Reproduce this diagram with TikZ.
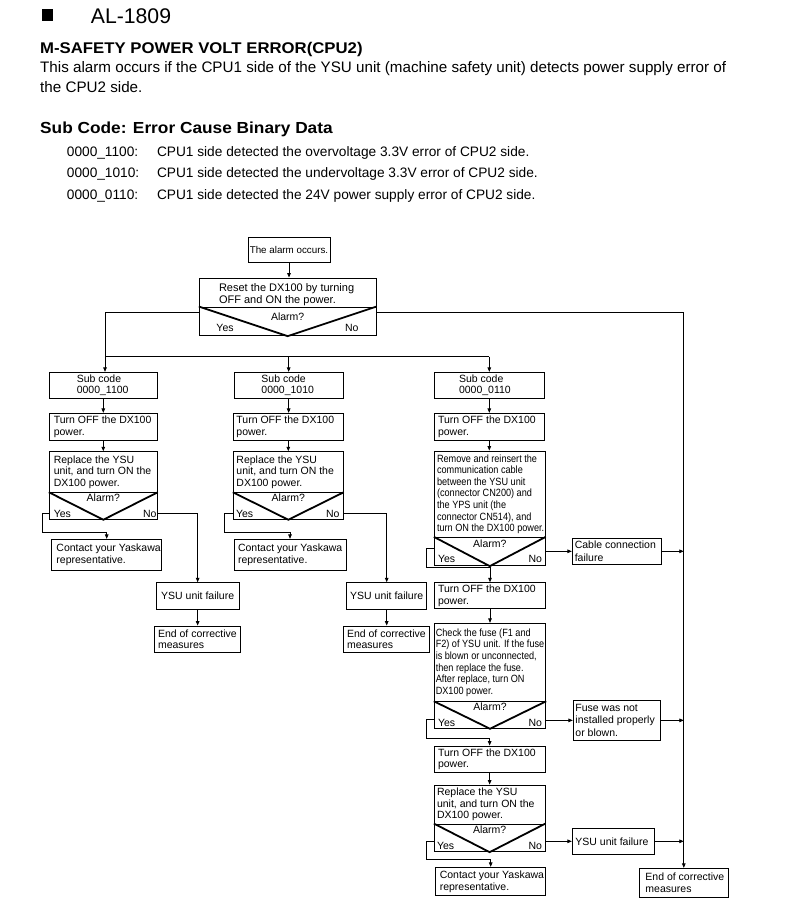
\documentclass[tikz,border=0pt]{standalone}
\usepackage{fontspec}
\setmainfont{Liberation Sans}
\newfontfamily\nfont[FakeStretch=0.87]{Liberation Sans}
\newfontfamily\wbfont[FakeStretch=1.08]{Liberation Sans}
\usetikzlibrary{arrows.meta,calc}
\newcommand\mkbox[5]{\node[bx, minimum width={(#4)-(#2)}, minimum height={(#5)-(#3)}] (#1) at ({((#2)+(#4))/2},{((#3)+(#5))/2}) {};}
\begin{document}
\begin{tikzpicture}[x=1pt,y=-1pt,
  bx/.style={draw, line width=0.9pt, inner sep=0pt, fill=white},
  tx/.style={inner sep=0pt, align=left, font=\fontsize{10.5}{11.6}\selectfont},
  ntx/.style={inner sep=0pt, align=left, font=\nfont\fontsize{10.5}{11.6}\selectfont},
  ln/.style={line width=0.8pt},
  arr/.style={line width=0.8pt, -{Triangle[length=4.5pt,width=3.6pt]}},
  vl/.style={line width=1.8pt, line join=miter},
  hd/.style={inner sep=0pt, anchor=base west}]
\fill[white] (0,0) rectangle (785,913);
\useasboundingbox (0,0) rectangle (785,913);

% ---------- header ----------
\fill (42.3,9.3) rectangle (53.3,20.7);
\node[hd, font=\fontsize{21.2}{24}\selectfont] (title) at (90.7,23.3) {AL-1809};
\node[hd, font=\wbfont\bfseries\fontsize{15.5}{18}\selectfont] (h1) at (40,53.3) {M-SAFETY POWER VOLT ERROR(CPU2)};
\node[hd, font=\fontsize{15.2}{18}\selectfont] (p1) at (40,72.5) {This alarm occurs if the CPU1 side of the YSU unit (machine safety unit) detects power supply error of};
\node[hd, font=\fontsize{15.2}{18}\selectfont] (p2) at (40,92) {the CPU2 side.};
\node[hd, font=\wbfont\bfseries\fontsize{16}{18}\selectfont] (h2) at (40,133.3) {Sub Code: Error Cause Binary Data};
\node[hd, font=\fontsize{13.7}{16}\selectfont] (c1a) at (66.7,156) {0000\_1100:};
\node[hd, font=\fontsize{13.7}{16}\selectfont] (c1b) at (156.8,156) {CPU1 side detected the overvoltage 3.3V error of CPU2 side.};
\node[hd, font=\fontsize{13.7}{16}\selectfont] (c2a) at (66.7,177.8) {0000\_1010:};
\node[hd, font=\fontsize{13.7}{16}\selectfont] (c2b) at (156.8,177.8) {CPU1 side detected the undervoltage 3.3V error of CPU2 side.};
\node[hd, font=\fontsize{13.7}{16}\selectfont] (c3a) at (66.7,199.5) {0000\_0110:};
\node[hd, font=\fontsize{13.7}{16}\selectfont] (c3b) at (156.8,199.5) {CPU1 side detected the 24V power supply error of CPU2 side.};

% ---------- top ----------
\mkbox{A}{248}{237}{330}{262}
\node[tx, font=\fontsize{9.8}{11}\selectfont] (At) at (A.center) {The alarm occurs.};
\mkbox{RSu}{199.3}{278}{376}{307}
\node[tx, anchor=west, font=\fontsize{11}{11.8}\selectfont] (RSt) at ([xshift=20pt,yshift=-2pt]RSu.west) {Reset the DX100 by turning\\OFF and ON the power.};
\mkbox{RSl}{199.3}{307}{376}{335.7}
\draw[vl] (RSl.north west) -- (RSl.south) -- (RSl.north east);
\node[tx] (RSa) at ([yshift=-10pt]RSl.north) {Alarm?};
\node[tx, anchor=west] (RSy) at ([xshift=17.4pt,yshift=8.7pt]RSl.south west) {Yes};
\node[tx, anchor=east] (RSn) at ([xshift=-17.7pt,yshift=8.7pt]RSl.south east) {No};

% ---------- column 1 ----------
\mkbox{S1}{49.3}{372.3}{157.3}{398.3}
\node[tx, anchor=west] (S1t) at ([xshift=27.7pt]S1.west) {Sub code\\0000\_1100};
\mkbox{T1}{49.3}{413.3}{157.3}{440}
\node[tx, anchor=west] (T1t) at ([xshift=4.7pt]T1.west) {Turn OFF the DX100\\power.};
\mkbox{R1u}{49.3}{451.7}{157.3}{492.7}
\node[tx, anchor=west] (R1t) at ([xshift=4.7pt]R1u.west) {Replace the YSU\\unit, and turn ON the\\DX100 power.};
\mkbox{R1l}{49.3}{492.7}{157.3}{519.3}
\draw[vl] (R1l.north west) -- (R1l.south) -- (R1l.north east);
\node[tx] (R1a) at ([yshift=-5.5pt]R1l.north) {Alarm?};
\node[tx, anchor=west] (R1y) at ([xshift=4.7pt,yshift=6.3pt]R1l.south west) {Yes};
\node[tx, anchor=east] (R1n) at ([xshift=-1pt,yshift=6.3pt]R1l.south east) {No};
\mkbox{C1}{51.7}{539.3}{161.7}{570}
\node[tx, anchor=west] (C1t) at ([xshift=5pt]C1.west) {Contact your Yaskawa\\representative.};
\mkbox{Y1}{156}{582.7}{239.3}{609}
\node[tx] (Y1t) at (Y1.center) {YSU unit failure};
\mkbox{E1}{154}{626}{240}{652.3}
\node[tx, anchor=west] (E1t) at ([xshift=4.3pt]E1.west) {End of corrective\\measures};

% ---------- column 2 ----------
\mkbox{S2}{234}{372.3}{343.3}{398.3}
\node[tx, anchor=west] (S2t) at ([xshift=27.7pt]S2.west) {Sub code\\0000\_1010};
\mkbox{T2}{233.3}{413.3}{343.3}{440}
\node[tx, anchor=west] (T2t) at ([xshift=3.4pt]T2.west) {Turn OFF the DX100\\power.};
\mkbox{R2u}{233.3}{451.7}{343.3}{492.7}
\node[tx, anchor=west] (R2t) at ([xshift=3.4pt]R2u.west) {Replace the YSU\\unit, and turn ON the\\DX100 power.};
\mkbox{R2l}{233.3}{492.7}{343.3}{519.3}
\draw[vl] (R2l.north west) -- (R2l.south) -- (R2l.north east);
\node[tx] (R2a) at ([yshift=-5.5pt]R2l.north) {Alarm?};
\node[tx, anchor=west] (R2y) at ([xshift=3pt,yshift=6.3pt]R2l.south west) {Yes};
\node[tx, anchor=east] (R2n) at ([xshift=-4pt,yshift=6.3pt]R2l.south east) {No};
\mkbox{C2}{234}{539.3}{346}{570}
\node[tx, anchor=west] (C2t) at ([xshift=4.3pt]C2.west) {Contact your Yaskawa\\representative.};
\mkbox{Y2}{346.7}{582.7}{426.7}{609}
\node[tx] (Y2t) at (Y2.center) {YSU unit failure};
\mkbox{E2}{343.3}{626}{429}{652.3}
\node[tx, anchor=west] (E2t) at ([xshift=4pt]E2.west) {End of corrective\\measures};

% ---------- column 3 ----------
\mkbox{S3}{434.3}{372.3}{544.3}{398.3}
\node[tx, anchor=west] (S3t) at ([xshift=25pt]S3.west) {Sub code\\0000\_0110};
\mkbox{T3}{434.3}{413.3}{544.3}{440}
\node[tx, anchor=west] (T3t) at ([xshift=4pt]T3.west) {Turn OFF the DX100\\power.};
\mkbox{M3u}{434.3}{451}{545.3}{537.3}
\node[ntx, anchor=west] (M3t) at ([xshift=3pt]M3u.west) {Remove and reinsert the\\communication cable\\between the YSU unit\\(connector CN200) and\\the YPS unit (the\\connector CN514), and\\turn ON the DX100 power.};
\mkbox{M3l}{434.3}{537.3}{545.3}{565.7}
\draw[vl] (M3l.north west) -- (M3l.south) -- (M3l.north east);
\node[tx] (M3a) at ([yshift=-6.7pt]M3l.north) {Alarm?};
\node[tx, anchor=west] (M3y) at ([xshift=4pt,yshift=7.4pt]M3l.south west) {Yes};
\node[tx, anchor=east] (M3n) at ([xshift=-3.6pt,yshift=7.4pt]M3l.south east) {No};
\mkbox{CB}{572.3}{538.3}{661.7}{564.3}
\node[tx, anchor=west, font=\fontsize{10.5}{12.3}\selectfont] (CBt) at ([xshift=2.7pt]CB.west) {Cable connection\\failure};
\mkbox{T3b}{434.3}{582.7}{545.7}{608.3}
\node[tx, anchor=west] (T3bt) at ([xshift=4pt]T3b.west) {Turn OFF the DX100\\power.};
\mkbox{F3u}{434.3}{623.3}{545.7}{701.7}
\node[ntx, anchor=west] (F3t) at ([xshift=1.7pt]F3u.west) {Check the fuse (F1 and\\F2) of YSU unit. If the fuse\\is blown or unconnected,\\then replace the fuse.\\After replace, turn ON\\DX100 power.};
\mkbox{F3l}{434.3}{701.7}{545.7}{728.3}
\draw[vl] (F3l.north west) -- (F3l.south) -- (F3l.north east);
\node[tx] (F3a) at ([yshift=-5.6pt]F3l.north) {Alarm?};
\node[tx, anchor=west] (F3y) at ([xshift=4pt,yshift=6pt]F3l.south west) {Yes};
\node[tx, anchor=east] (F3n) at ([xshift=-4pt,yshift=6pt]F3l.south east) {No};
\mkbox{FU}{573.3}{700}{660.7}{740.7}
\node[tx, anchor=west, font=\fontsize{10.5}{12.2}\selectfont] (FUt) at ([xshift=2.4pt]FU.west) {Fuse was not\\installed properly\\or blown.};
\mkbox{T3c}{434.3}{746}{545}{772.3}
\node[tx, anchor=west] (T3ct) at ([xshift=4pt]T3c.west) {Turn OFF the DX100\\power.};
\mkbox{R3u}{434.3}{785}{545}{824}
\node[tx, anchor=west] (R3t) at ([xshift=3pt]R3u.west) {Replace the YSU\\unit, and turn ON the\\DX100 power.};
\mkbox{R3l}{434.3}{824}{545}{851.7}
\draw[vl] (R3l.north west) -- (R3l.south) -- (R3l.north east);
\node[tx] (R3a) at ([yshift=-6pt]R3l.north) {Alarm?};
\node[tx, anchor=west] (R3y) at ([xshift=3pt,yshift=6.7pt]R3l.south west) {Yes};
\node[tx, anchor=east] (R3n) at ([xshift=-3.3pt,yshift=6.7pt]R3l.south east) {No};
\mkbox{C3}{435.7}{867.3}{545.7}{895.7}
\node[tx, anchor=west] (C3t) at ([xshift=4.3pt]C3.west) {Contact your Yaskawa\\representative.};
\mkbox{Y3}{572.3}{828.3}{654.3}{854.3}
\node[tx, anchor=west] (Y3t) at ([xshift=3.4pt]Y3.west) {YSU unit failure};
\mkbox{EF}{639.3}{868.3}{728.3}{897.3}
\node[tx, anchor=west] (EFt) at ([xshift=6.4pt]EF.west) {End of corrective\\measures};

% ---------- connectors ----------
\draw[arr] (A.south) -- (A.south |- RSu.north);
\coordinate (yesT) at ([yshift=23.4pt]RSl.south west);
\coordinate (noT) at ([yshift=23.4pt]RSl.south east);
\coordinate (bus1) at ($(S1.north)+(1.7,-15.3)$);
\draw[ln] (yesT) -| (bus1) -- (bus1 -| S3.north);
\draw[arr] (bus1) -- (bus1 |- S1.north);
\draw[arr] (bus1 -| S2.north) -- (S2.north);
\draw[arr] (bus1 -| S3.north) -- (S3.north);
\draw[arr] (noT) -| (EF.north);

% col 1
\draw[arr] (S1.south) -- (T1.north);
\draw[arr] (T1.south) -- (R1u.north);
\draw[arr] ([yshift=6.3pt]R1l.south west) -- ++(-6,0) |- ([yshift=6.6pt]C1.north) -- (C1.north);
\draw[arr] ([yshift=6.3pt]R1l.south east) -| (Y1.north);
\draw[arr] (Y1.south) -- (Y1.south |- E1.north);
% col 2
\draw[arr] (S2.south) -- (S2.south |- T2.north);
\draw[arr] (T2.south) -- (R2u.north);
\draw[arr] ([yshift=6.3pt]R2l.south west) -- ++(-8,0) |- ([yshift=6.6pt]C2.north) -- (C2.north);
\draw[arr] ([yshift=6.3pt]R2l.south east) -| (Y2.north);
\draw[arr] (Y2.south) -- (Y2.south |- E2.north);
% col 3
\draw[arr] (S3.south) -- (T3.north);
\draw[arr] (T3.south) -- (T3.south |- M3u.north);
\draw[arr] ([yshift=17.4pt]M3l.south west) -- ++(-7,0) |- ([yshift=14.4pt]T3b.north) -- (T3b.north);
\draw[arr] (CB.west -| M3l.east) -- (CB.west);
\draw[arr] (CB.east) -- (CB.east -| EF.north);
\draw[arr] (T3b.south) -- (T3b.south |- F3u.north);
\draw[arr] ([yshift=9pt]F3l.south west) -- ++(-7,0) |- ([yshift=7pt]T3c.north) -- (T3c.north);
\draw[arr] (FU.west -| F3l.east) -- (FU.west);
\draw[arr] (FU.east) -- (FU.east -| EF.north);
\draw[arr] (T3c.south) -- (T3c.south |- R3u.north);
\draw[arr] ([yshift=10.7pt]R3l.south west) -- ++(-7,0) |- ([yshift=7.3pt]C3.north) -- (C3.north);
\draw[arr] (Y3.west -| R3l.east) -- (Y3.west);
\draw[arr] (Y3.east) -- (Y3.east -| EF.north);
\end{tikzpicture}
\end{document}
